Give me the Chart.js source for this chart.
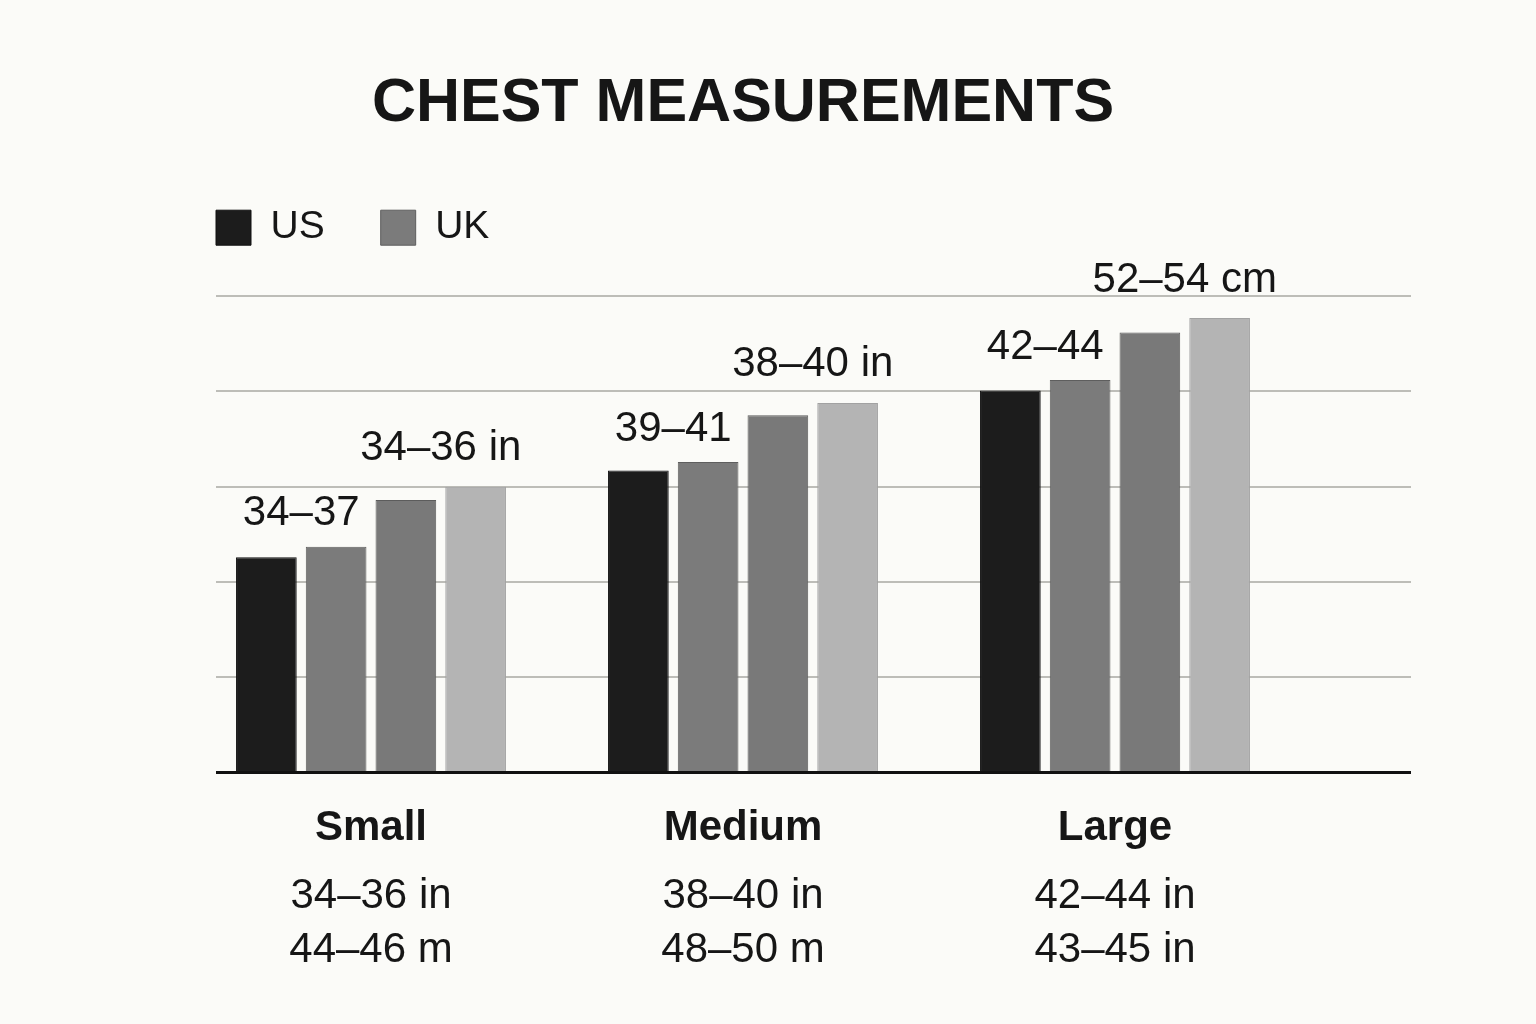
<!DOCTYPE html>
<html>
<head>
<meta charset="utf-8">
<title>Chest Measurements</title>
<script src="https://cdn.jsdelivr.net/npm/chart.js@4.4.1/dist/chart.umd.min.js"></script>
<style>
  html, body { margin: 0; padding: 0; background: #fbfbf8; }
  canvas { display: block; }
</style>
</head>
<body>
<canvas id="chestChart" width="1536" height="1024"></canvas>
<script>
// Chart data
const sizes = ['Small', 'Medium', 'Large'];
const sizeRanges = [
    ['34–36 in', '44–46 m'],
    ['38–40 in', '48–50 m'],
    ['42–44 in', '43–45 in']
];
const usValues = [22.6, 31.7, 40.1];
const ukValues = [23.7, 32.6, 41.2];
const thirdValues = [28.6, 37.5, 46.2];
const fourthValues = [30.0, 38.8, 47.7];
const leftPairLabels = ['34–37', '39–41', '42–44'];
const rightPairLabels = ['34–36 in', '38–40 in', '52–54 cm'];
const yTicks = [0, 10, 20, 30, 40, 50];

const FONT = "'Liberation Sans', Arial, Helvetica, sans-serif";
const TEXT = '#161616';

// Shorten the legend box so the plot starts right below it
const legendHeight = {
    id: 'legendHeight',
    beforeInit(chart) {
        const fit = chart.legend.fit;
        chart.legend.fit = function () {
            fit.call(this);
            this.height = 144;
        };
    }
};

// Horizontal rules wider than the category area
const gridRules = {
    id: 'gridRules',
    beforeDatasetsDraw(chart) {
        const {ctx, chartArea, scales: {y}} = chart;
        const x0 = chartArea.left + 31;
        const x1 = chartArea.right + 110;
        ctx.save();
        ctx.strokeStyle = '#bdbdb8';
        ctx.lineWidth = 2;
        yTicks.forEach(v => {
            if (v === 0) return;
            const py = Math.round(y.getPixelForValue(v));
            ctx.beginPath();
            ctx.moveTo(x0, py);
            ctx.lineTo(x1, py);
            ctx.stroke();
        });
        ctx.restore();
    },
    afterDatasetsDraw(chart) {
        const {ctx, chartArea, scales: {y}} = chart;
        const py = y.getPixelForValue(0);
        ctx.save();
        ctx.strokeStyle = '#111111';
        ctx.lineWidth = 3;
        ctx.beginPath();
        ctx.moveTo(chartArea.left + 31, py);
        ctx.lineTo(chartArea.right + 110, py);
        ctx.stroke();
        ctx.restore();
    }
};

// Range labels above each pair of bars
const pairLabels = {
    id: 'pairLabels',
    afterDatasetsDraw(chart) {
        const {ctx} = chart;
        const m = [0, 1, 2, 3].map(i => chart.getDatasetMeta(i).data);
        ctx.save();
        ctx.font = '42px ' + FONT;
        ctx.fillStyle = TEXT;
        ctx.textAlign = 'center';
        ctx.textBaseline = 'middle';
        sizes.forEach((s, i) => {
            const a = m[0][i], b = m[1][i], c = m[2][i], d = m[3][i];
            ctx.fillText(leftPairLabels[i], (a.x + b.x) / 2, Math.min(a.y, b.y) - 33);
            ctx.fillText(rightPairLabels[i], (c.x + d.x) / 2, Math.min(c.y, d.y) - 38);
        });
        ctx.restore();
    }
};

const hiddenAxis = (pos, w) => ({
    position: pos,
    min: 0,
    max: 50,
    ticks: { display: false, stepSize: 10 },
    grid: { display: false },
    border: { display: false },
    afterFit: s => { s.width = w; }
});

new Chart(document.getElementById('chestChart'), {
    type: 'bar',
    data: {
        labels: sizes,
        datasets: [
            { label: 'US', data: usValues, backgroundColor: '#1c1c1c', borderColor: '#111111' },
            { label: 'UK', data: ukValues, backgroundColor: '#7b7b7b', borderColor: '#5e5e5e' },
            { label: '', data: thirdValues, backgroundColor: '#797979', borderColor: '#5c5c5c' },
            { label: '', data: fourthValues, backgroundColor: '#b4b4b4', borderColor: '#a2a2a2' }
        ]
    },
    options: {
        responsive: false,
        animation: false,
        devicePixelRatio: 1,
        layout: { padding: { left: 160, right: 210, top: 0, bottom: 47 } },
        datasets: {
            bar: { categoryPercentage: 0.75, barPercentage: 0.87, borderWidth: 1 }
        },
        plugins: {
            title: {
                display: true,
                text: 'CHEST MEASUREMENTS',
                color: TEXT,
                font: { family: FONT, size: 61, weight: 'bold', lineHeight: 1.2 },
                padding: { top: 68, bottom: 11 }
            },
            legend: {
                display: true,
                position: 'top',
                align: 'start',
                labels: {
                    color: TEXT,
                    font: { family: FONT, size: 39 },
                    boxWidth: 35,
                    boxHeight: 35,
                    padding: 56,
                    filter: item => item.text !== ''
                }
            },
            tooltip: { enabled: false }
        },
        scales: {
            x: {
                weight: 0,
                offset: true,
                grid: { display: true, color: 'transparent', drawOnChartArea: false, drawTicks: true, tickLength: 31 },
                border: { display: false },
                ticks: { color: TEXT, padding: 0, font: { family: FONT, size: 42, weight: 'bold', lineHeight: 1.2 } }
            },
            x2: {
                type: 'category',
                position: 'bottom',
                weight: 1,
                offset: true,
                labels: sizeRanges,
                grid: { display: true, color: 'transparent', drawOnChartArea: false, drawTicks: true, tickLength: 15 },
                border: { display: false },
                ticks: { color: TEXT, padding: 0, font: { family: FONT, size: 42, lineHeight: 54 / 42 } }
            },
            y: hiddenAxis('left', 25),
            yR: hiddenAxis('right', 25)
        }
    },
    plugins: [legendHeight, gridRules, pairLabels]
});
</script>
</body>
</html>
